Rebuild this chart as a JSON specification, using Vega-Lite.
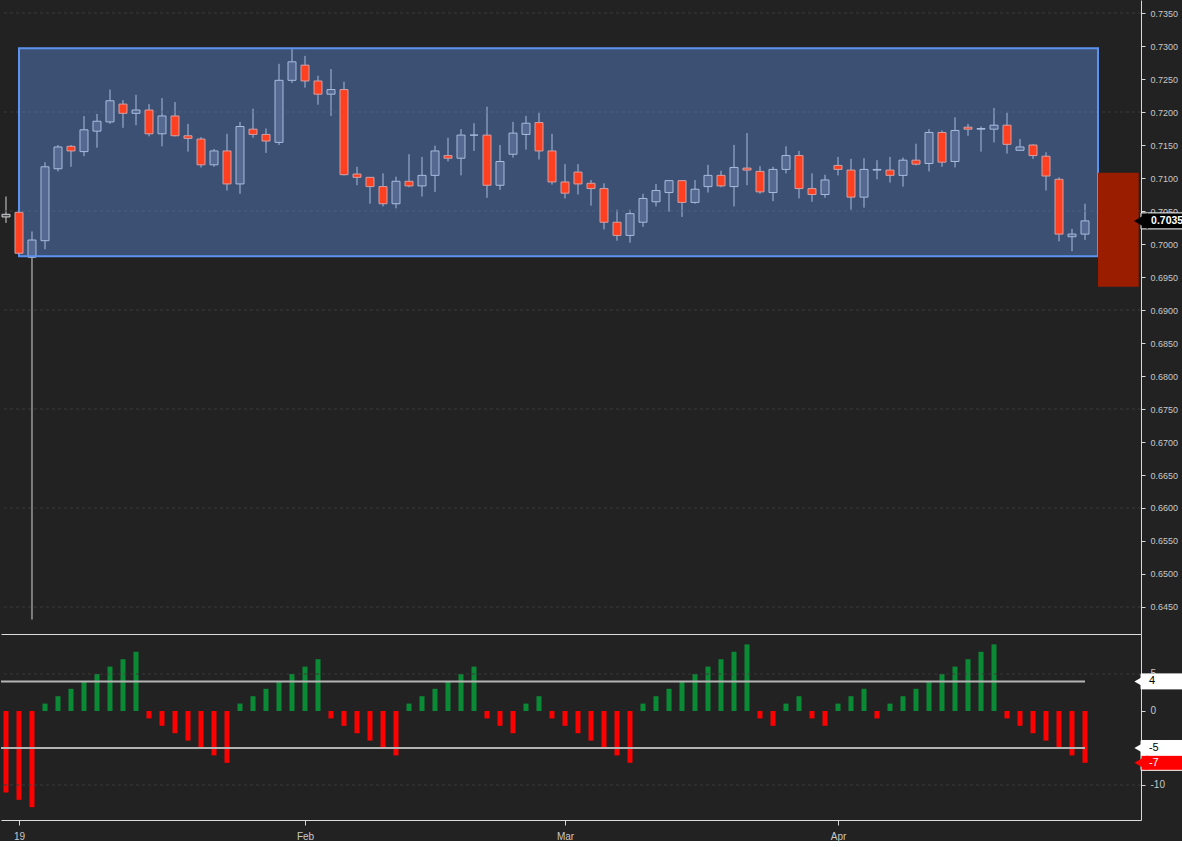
{
  "$schema": "https://vega.github.io/schema/vega-lite/v6.json",
  "background": "#222222",
  "padding": 0,
  "spacing": 0,
  "config": {
    "view": {"stroke": null},
    "font": "Liberation Sans",
    "axis": {"labelFont": "Liberation Sans", "grid": false, "labelOverlap": false, "labelBound": false, "labelFlush": false, "labelSeparation": 0},
    "axisRight": {"domainColor": "#d8d8d8", "tickColor": "#d8d8d8", "tickSize": 4, "labelPadding": 5, "labelColor": "#c8c8c8"},
    "axisBottom": {"domainColor": "#dddddd", "tickColor": "#d8d8d8", "tickSize": 5, "labelPadding": 6, "labelColor": "#c8c8c8"}
  },
  "datasets": {
    "ohlc": [
      {"i": 0, "open": 0.7041, "high": 0.7072, "low": 0.7032, "close": 0.7045, "osc": -11},
      {"i": 1, "open": 0.7048, "high": 0.7049, "low": 0.6986, "close": 0.6986, "osc": -12},
      {"i": 2, "open": 0.6980, "high": 0.7019, "low": 0.6431, "close": 0.7006, "osc": -13},
      {"i": 3, "open": 0.7005, "high": 0.7124, "low": 0.6992, "close": 0.7117, "osc": 1},
      {"i": 4, "open": 0.7114, "high": 0.7150, "low": 0.7110, "close": 0.7147, "osc": 2},
      {"i": 5, "open": 0.7148, "high": 0.7150, "low": 0.7117, "close": 0.7141, "osc": 3},
      {"i": 6, "open": 0.7140, "high": 0.7194, "low": 0.7133, "close": 0.7173, "osc": 4},
      {"i": 7, "open": 0.7171, "high": 0.7197, "low": 0.7146, "close": 0.7186, "osc": 5},
      {"i": 8, "open": 0.7185, "high": 0.7234, "low": 0.7182, "close": 0.7217, "osc": 6},
      {"i": 9, "open": 0.7212, "high": 0.7218, "low": 0.7176, "close": 0.7198, "osc": 7},
      {"i": 10, "open": 0.7198, "high": 0.7226, "low": 0.7180, "close": 0.7203, "osc": 8},
      {"i": 11, "open": 0.7203, "high": 0.7212, "low": 0.7163, "close": 0.7167, "osc": -1},
      {"i": 12, "open": 0.7167, "high": 0.7221, "low": 0.7148, "close": 0.7194, "osc": -2},
      {"i": 13, "open": 0.7194, "high": 0.7215, "low": 0.7163, "close": 0.7164, "osc": -3},
      {"i": 14, "open": 0.7164, "high": 0.7182, "low": 0.7140, "close": 0.7160, "osc": -4},
      {"i": 15, "open": 0.7159, "high": 0.7162, "low": 0.7116, "close": 0.7120, "osc": -5},
      {"i": 16, "open": 0.7120, "high": 0.7144, "low": 0.7117, "close": 0.7141, "osc": -6},
      {"i": 17, "open": 0.7141, "high": 0.7167, "low": 0.7081, "close": 0.7091, "osc": -7},
      {"i": 18, "open": 0.7091, "high": 0.7185, "low": 0.7076, "close": 0.7178, "osc": 1},
      {"i": 19, "open": 0.7174, "high": 0.7205, "low": 0.7161, "close": 0.7166, "osc": 2},
      {"i": 20, "open": 0.7166, "high": 0.7175, "low": 0.7138, "close": 0.7156, "osc": 3},
      {"i": 21, "open": 0.7154, "high": 0.7273, "low": 0.7150, "close": 0.7248, "osc": 4},
      {"i": 22, "open": 0.7248, "high": 0.7297, "low": 0.7244, "close": 0.7276, "osc": 5},
      {"i": 23, "open": 0.7271, "high": 0.7285, "low": 0.7237, "close": 0.7247, "osc": 6},
      {"i": 24, "open": 0.7247, "high": 0.7255, "low": 0.7211, "close": 0.7227, "osc": 7},
      {"i": 25, "open": 0.7227, "high": 0.7265, "low": 0.7194, "close": 0.7234, "osc": -1},
      {"i": 26, "open": 0.7234, "high": 0.7246, "low": 0.7104, "close": 0.7105, "osc": -2},
      {"i": 27, "open": 0.7106, "high": 0.7117, "low": 0.7089, "close": 0.7101, "osc": -3},
      {"i": 28, "open": 0.7101, "high": 0.7101, "low": 0.7061, "close": 0.7087, "osc": -4},
      {"i": 29, "open": 0.7087, "high": 0.7107, "low": 0.7057, "close": 0.7061, "osc": -5},
      {"i": 30, "open": 0.7061, "high": 0.7102, "low": 0.7054, "close": 0.7095, "osc": -6},
      {"i": 31, "open": 0.7095, "high": 0.7136, "low": 0.7086, "close": 0.7088, "osc": 1},
      {"i": 32, "open": 0.7088, "high": 0.7132, "low": 0.7072, "close": 0.7104, "osc": 2},
      {"i": 33, "open": 0.7104, "high": 0.7149, "low": 0.7079, "close": 0.7141, "osc": 3},
      {"i": 34, "open": 0.7134, "high": 0.7161, "low": 0.7125, "close": 0.7130, "osc": 4},
      {"i": 35, "open": 0.7130, "high": 0.7174, "low": 0.7104, "close": 0.7165, "osc": 5},
      {"i": 36, "open": 0.7165, "high": 0.7183, "low": 0.7141, "close": 0.7165, "osc": 6},
      {"i": 37, "open": 0.7165, "high": 0.7208, "low": 0.7070, "close": 0.7089, "osc": -1},
      {"i": 38, "open": 0.7089, "high": 0.7150, "low": 0.7082, "close": 0.7125, "osc": -2},
      {"i": 39, "open": 0.7136, "high": 0.7185, "low": 0.7131, "close": 0.7168, "osc": -3},
      {"i": 40, "open": 0.7166, "high": 0.7194, "low": 0.7143, "close": 0.7183, "osc": 1},
      {"i": 41, "open": 0.7184, "high": 0.7199, "low": 0.7128, "close": 0.7141, "osc": 2},
      {"i": 42, "open": 0.7141, "high": 0.7167, "low": 0.7090, "close": 0.7094, "osc": -1},
      {"i": 43, "open": 0.7094, "high": 0.7121, "low": 0.7069, "close": 0.7077, "osc": -2},
      {"i": 44, "open": 0.7109, "high": 0.7121, "low": 0.7075, "close": 0.7091, "osc": -3},
      {"i": 45, "open": 0.7092, "high": 0.7097, "low": 0.7058, "close": 0.7084, "osc": -4},
      {"i": 46, "open": 0.7084, "high": 0.7092, "low": 0.7022, "close": 0.7033, "osc": -5},
      {"i": 47, "open": 0.7033, "high": 0.7052, "low": 0.7005, "close": 0.7013, "osc": -6},
      {"i": 48, "open": 0.7013, "high": 0.7052, "low": 0.7002, "close": 0.7046, "osc": -7},
      {"i": 49, "open": 0.7033, "high": 0.7076, "low": 0.7026, "close": 0.7069, "osc": 1},
      {"i": 50, "open": 0.7064, "high": 0.7091, "low": 0.7057, "close": 0.7081, "osc": 2},
      {"i": 51, "open": 0.7078, "high": 0.7097, "low": 0.7049, "close": 0.7096, "osc": 3},
      {"i": 52, "open": 0.7096, "high": 0.7097, "low": 0.7041, "close": 0.7063, "osc": 4},
      {"i": 53, "open": 0.7063, "high": 0.7097, "low": 0.7061, "close": 0.7083, "osc": 5},
      {"i": 54, "open": 0.7087, "high": 0.7120, "low": 0.7078, "close": 0.7104, "osc": 6},
      {"i": 55, "open": 0.7104, "high": 0.7111, "low": 0.7086, "close": 0.7088, "osc": 7},
      {"i": 56, "open": 0.7087, "high": 0.7150, "low": 0.7057, "close": 0.7116, "osc": 8},
      {"i": 57, "open": 0.7115, "high": 0.7168, "low": 0.7089, "close": 0.7112, "osc": 9},
      {"i": 58, "open": 0.7110, "high": 0.7118, "low": 0.7076, "close": 0.7079, "osc": -1},
      {"i": 59, "open": 0.7078, "high": 0.7117, "low": 0.7065, "close": 0.7113, "osc": -2},
      {"i": 60, "open": 0.7113, "high": 0.7148, "low": 0.7107, "close": 0.7134, "osc": 1},
      {"i": 61, "open": 0.7134, "high": 0.7141, "low": 0.7069, "close": 0.7084, "osc": 2},
      {"i": 62, "open": 0.7084, "high": 0.7107, "low": 0.7064, "close": 0.7075, "osc": -1},
      {"i": 63, "open": 0.7075, "high": 0.7105, "low": 0.7070, "close": 0.7097, "osc": -2},
      {"i": 64, "open": 0.7119, "high": 0.7132, "low": 0.7104, "close": 0.7113, "osc": 1},
      {"i": 65, "open": 0.7112, "high": 0.7129, "low": 0.7052, "close": 0.7071, "osc": 2},
      {"i": 66, "open": 0.7071, "high": 0.7130, "low": 0.7055, "close": 0.7113, "osc": 3},
      {"i": 67, "open": 0.7112, "high": 0.7127, "low": 0.7098, "close": 0.7113, "osc": -1},
      {"i": 68, "open": 0.7112, "high": 0.7132, "low": 0.7093, "close": 0.7104, "osc": 1},
      {"i": 69, "open": 0.7104, "high": 0.7131, "low": 0.7087, "close": 0.7127, "osc": 2},
      {"i": 70, "open": 0.7127, "high": 0.7152, "low": 0.7119, "close": 0.7121, "osc": 3},
      {"i": 71, "open": 0.7122, "high": 0.7174, "low": 0.7110, "close": 0.7169, "osc": 4},
      {"i": 72, "open": 0.7169, "high": 0.7172, "low": 0.7117, "close": 0.7124, "osc": 5},
      {"i": 73, "open": 0.7125, "high": 0.7192, "low": 0.7116, "close": 0.7172, "osc": 6},
      {"i": 74, "open": 0.7177, "high": 0.7182, "low": 0.7164, "close": 0.7174, "osc": 7},
      {"i": 75, "open": 0.7174, "high": 0.7178, "low": 0.7140, "close": 0.7175, "osc": 8},
      {"i": 76, "open": 0.7174, "high": 0.7206, "low": 0.7154, "close": 0.7180, "osc": 9},
      {"i": 77, "open": 0.7180, "high": 0.7199, "low": 0.7137, "close": 0.7151, "osc": -1},
      {"i": 78, "open": 0.7142, "high": 0.7159, "low": 0.7142, "close": 0.7147, "osc": -2},
      {"i": 79, "open": 0.7150, "high": 0.7151, "low": 0.7129, "close": 0.7134, "osc": -3},
      {"i": 80, "open": 0.7133, "high": 0.7139, "low": 0.7081, "close": 0.7103, "osc": -4},
      {"i": 81, "open": 0.7098, "high": 0.7101, "low": 0.7004, "close": 0.7015, "osc": -5},
      {"i": 82, "open": 0.7011, "high": 0.7023, "low": 0.6989, "close": 0.7015, "osc": -6},
      {"i": 83, "open": 0.7015, "high": 0.7061, "low": 0.7006, "close": 0.7035, "osc": -7}
    ]
  },
  "vconcat": [
    {
      "width": 1140,
      "height": 634,
      "data": {"name": "ohlc"},
      "layer": [
        {
          "mark": {"type": "rule", "color": "#d4d4d4", "strokeWidth": 1},
          "encoding": {
            "x": {"field": "i", "type": "quantitative", "scale": {"domain": [-0.384615, 87.307692], "nice": false, "zero": false, "padding": 0},
              "axis": {"orient": "bottom", "title": null, "labels": false, "ticks": false, "domain": true}},
            "y": {"field": "low", "type": "quantitative", "scale": {"domain": [0.640909, 0.73697], "nice": false, "zero": false, "padding": 0},
              "axis": {"orient": "right", "title": null, "tickCount": 19, "format": ".4f", "labelFontSize": 9, "labelOverlap": false}},
            "y2": {"field": "high"}
          }
        },
        {
          "data": {"values": [{"g": 0.645}, {"g": 0.66}, {"g": 0.675}, {"g": 0.69}, {"g": 0.705}, {"g": 0.72}, {"g": 0.735}]},
          "mark": {"type": "rule", "color": "#3a3a3a", "strokeDash": [3, 3]},
          "encoding": {
            "y": {"field": "g", "type": "quantitative", "axis": {"title": null}}
          }
        },
        {
          "transform": [{"filter": "datum.close >= datum.open"}],
          "mark": {"type": "bar", "width": 8, "fill": "#4a4a52", "stroke": "#d4d4d4", "strokeWidth": 1},
          "encoding": {
            "x": {"field": "i", "type": "quantitative", "axis": {"title": null}},
            "y": {"field": "open", "type": "quantitative", "axis": {"title": null}},
            "y2": {"field": "close"}
          }
        },
        {
          "data": {"values": [{"from": 1, "to": 84, "lo": 0.69814, "hi": 0.72965}]},
          "mark": {"type": "rect", "fill": "#6495ed", "fillOpacity": 0.4, "stroke": "#5c92f0", "strokeWidth": 2},
          "encoding": {
            "x": {"field": "from", "type": "quantitative", "axis": {"title": null}},
            "x2": {"field": "to"},
            "y": {"field": "lo", "type": "quantitative", "axis": {"title": null}},
            "y2": {"field": "hi"}
          }
        },
        {
          "transform": [{"filter": "datum.close < datum.open"}],
          "mark": {"type": "bar", "width": 8, "fill": "#ff4020", "stroke": "#cfa0a6", "strokeWidth": 1},
          "encoding": {
            "x": {"field": "i", "type": "quantitative", "axis": {"title": null}},
            "y": {"field": "open", "type": "quantitative", "axis": {"title": null}},
            "y2": {"field": "close"}
          }
        },
        {
          "data": {"values": [{"from": 84, "to": 87.13, "lo": 0.69353, "hi": 0.7108}]},
          "mark": {"type": "rect", "fill": "#9a1d00"},
          "encoding": {
            "x": {"field": "from", "type": "quantitative", "axis": {"title": null}},
            "x2": {"field": "to"},
            "y": {"field": "lo", "type": "quantitative", "axis": {"title": null}},
            "y2": {"field": "hi"}
          }
        },
        {
          "data": {"values": [{"p": 0.7035, "t": "0.7035"}]},
          "mark": {"type": "bar", "orient": "horizontal", "height": 16, "fill": "#000000", "stroke": "#ffffff", "strokeWidth": 1},
          "encoding": {
            "x": {"datum": 87.31, "type": "quantitative", "axis": {"title": null}},
            "x2": {"datum": 92},
            "y": {"field": "p", "type": "quantitative", "axis": {"title": null}}
          }
        },
        {
          "data": {"values": [{"p": 0.7035, "t": "0.7035"}]},
          "mark": {"type": "point", "shape": "triangle-left", "size": 256, "filled": true, "fill": "#000000", "opacity": 1},
          "encoding": {
            "x": {"datum": 87.3, "type": "quantitative", "axis": {"title": null}},
            "y": {"field": "p", "type": "quantitative", "axis": {"title": null}}
          }
        },
        {
          "data": {"values": [{"p": 0.7035, "t": "0.7035"}]},
          "mark": {"type": "text", "align": "left", "baseline": "middle", "color": "#ffffff", "fontSize": 10.5, "fontWeight": "bold"},
          "encoding": {
            "x": {"datum": 88.08, "type": "quantitative", "axis": {"title": null}},
            "y": {"field": "p", "type": "quantitative", "axis": {"title": null}},
            "text": {"field": "t"}
          }
        }
      ]
    },
    {
      "width": 1140,
      "height": 186,
      "data": {"name": "ohlc"},
      "layer": [
        {
          "mark": {"type": "bar", "width": 5},
          "encoding": {
            "x": {"field": "i", "type": "quantitative", "scale": {"domain": [-0.384615, 87.307692], "nice": false, "zero": false, "padding": 0},
              "axis": {"orient": "bottom", "title": null, "values": [1, 23, 43, 64],
                "labelExpr": "datum.value == 1 ? '19' : datum.value == 23 ? 'Feb' : datum.value == 43 ? 'Mar' : 'Apr'",
                "labelFontSize": 10, "labelOverlap": false}},
            "y": {"field": "osc", "type": "quantitative", "scale": {"domain": [-14.73, 10.405], "nice": false, "zero": false, "padding": 0},
              "axis": {"orient": "right", "title": null, "values": [5, 0, -5, -10], "labelExpr": "'' + datum.value",
                "labelFontSize": 10, "labelOverlap": false}},
            "y2": {"datum": 0},
            "color": {"condition": {"test": "datum.osc > 0", "value": "#0b8a35"}, "value": "#ff0000"}
          }
        },
        {
          "data": {"values": [{"g": 5}, {"g": -10}]},
          "mark": {"type": "rule", "color": "#3a3a3a", "strokeDash": [3, 3]},
          "encoding": {
            "y": {"field": "g", "type": "quantitative", "axis": {"title": null}}
          }
        },
        {
          "data": {"values": [{"v": 4}, {"v": -5}]},
          "mark": {"type": "rule", "color": "#b4b4b4", "strokeWidth": 2},
          "encoding": {
            "x": {"datum": -0.3846, "type": "quantitative", "axis": {"title": null}},
            "x2": {"datum": 83},
            "y": {"field": "v", "type": "quantitative", "axis": {"title": null}}
          }
        },
        {
          "data": {"values": [{"v": 4, "t": "4"}, {"v": -5, "t": "-5"}, {"v": -7, "t": "-7"}]},
          "mark": {"type": "bar", "orient": "horizontal", "height": 15, "stroke": "#ffffff", "strokeWidth": 1},
          "encoding": {
            "x": {"datum": 87.31, "type": "quantitative", "axis": {"title": null}},
            "x2": {"datum": 92},
            "y": {"field": "v", "type": "quantitative", "axis": {"title": null}},
            "fill": {"condition": {"test": "datum.v == -7", "value": "#ff0000"}, "value": "#ffffff"}
          }
        },
        {
          "data": {"values": [{"v": 4, "t": "4"}, {"v": -5, "t": "-5"}, {"v": -7, "t": "-7"}]},
          "mark": {"type": "point", "shape": "triangle-left", "size": 225, "filled": true, "opacity": 1},
          "encoding": {
            "x": {"datum": 87.3, "type": "quantitative", "axis": {"title": null}},
            "y": {"field": "v", "type": "quantitative", "axis": {"title": null}},
            "fill": {"condition": {"test": "datum.v == -7", "value": "#ff0000"}, "value": "#ffffff"}
          }
        },
        {
          "data": {"values": [{"v": 4, "t": "4"}, {"v": -5, "t": "-5"}, {"v": -7, "t": "-7"}]},
          "mark": {"type": "text", "align": "left", "baseline": "middle", "fontSize": 11},
          "encoding": {
            "x": {"datum": 87.92, "type": "quantitative", "axis": {"title": null}},
            "y": {"field": "v", "type": "quantitative", "axis": {"title": null}},
            "text": {"field": "t"},
            "color": {"condition": {"test": "datum.v == -7", "value": "#ffffff"}, "value": "#000000"}
          }
        }
      ]
    }
  ]
}
